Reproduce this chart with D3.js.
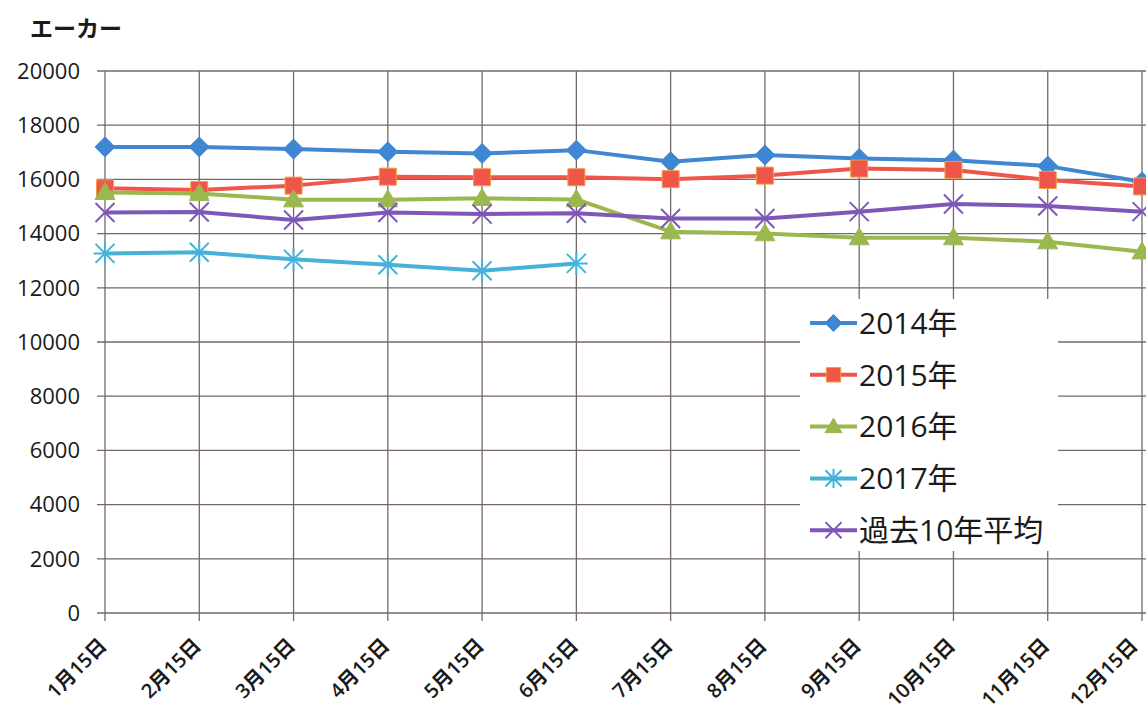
<!DOCTYPE html>
<html><head><meta charset="utf-8">
<script src="https://cdn.jsdelivr.net/npm/d3@7"></script>
<style>
html,body{margin:0;padding:0;background:#fff;}
svg{display:block;}
text{font-family:"Open Sans","Noto Sans CJK JP",sans-serif;fill:#1a1a1a;}
</style></head>
<body>
<svg id="c" width="1146" height="716"></svg>
<script>
const categories = ["1月15日","2月15日","3月15日","4月15日","5月15日","6月15日","7月15日","8月15日","9月15日","10月15日","11月15日","12月15日"];
const yTicks = [0,2000,4000,6000,8000,10000,12000,14000,16000,18000,20000];
const s2014 = [17200,17200,17120,17020,16960,17080,16650,16900,16770,16710,16490,15910];
const s2015 = [15670,15610,15770,16100,16080,16080,16010,16140,16400,16350,15980,15740];
const s2016 = [15520,15480,15250,15250,15300,15260,14070,14000,13850,13850,13700,13330];
const s2017 = [13270,13310,13050,12850,12630,12900];
const avg10 = [14780,14800,14500,14780,14720,14750,14560,14560,14810,15090,15020,14810];
const seriesNames = ["2014年","2015年","2016年","2017年","過去10年平均"];
const yTitle = "エーカー";

const series = [
  {name:seriesNames[0], values:s2014, color:"#3f87d2", marker:"diamond"},
  {name:seriesNames[1], values:s2015, color:"#ef5548", marker:"square"},
  {name:seriesNames[2], values:s2016, color:"#9bb84f", marker:"triangle"},
  {name:seriesNames[3], values:s2017, color:"#46b2d8", marker:"star"},
  {name:seriesNames[4], values:avg10, color:"#7e57b8", marker:"x"}
];

const svg = d3.select("#c");
const x = d3.scalePoint().domain(categories).range([105,1142]);
const y = d3.scaleLinear().domain([0,20000]).range([613,71]);
const grid = "#76686a";

svg.append("g").selectAll("line").data(yTicks).join("line")
  .attr("x1",97).attr("x2",1146)
  .attr("y1",d=>y(d)).attr("y2",d=>y(d))
  .attr("stroke",grid).attr("stroke-width",1.3);
svg.append("g").selectAll("line").data(categories).join("line")
  .attr("x1",d=>x(d)).attr("x2",d=>x(d))
  .attr("y1",y(20000)).attr("y2",621)
  .attr("stroke",grid).attr("stroke-width",1.3);

svg.append("g").selectAll("text").data(yTicks).join("text")
  .attr("x",80).attr("y",d=>y(d)).attr("dy","0.35em")
  .attr("text-anchor","end").attr("font-size",22).text(d=>d);

const lastCat = categories[categories.length-1];
svg.append("g").selectAll("text").data(categories).join("text")
  .attr("transform",d=>`translate(${Math.min(x(d)-2, 1134)},${642}) rotate(-45)`)
  .attr("text-anchor","end").attr("dy","0.35em").attr("font-size",20)
  .attr("font-weight",600).text(d=>d);

svg.append("text").attr("x",30).attr("y",37).attr("font-size",23).attr("font-weight","bold")
  .attr("font-family","Noto Sans CJK JP").text(yTitle);

function markerPath(type, s){
  switch(type){
    case "diamond": return `M0,${-s}L${s},0L0,${s}L${-s},0Z`;
    case "square": return `M${-s},${-s}H${s}V${s}H${-s}Z`;
    case "triangle": return `M0,${-s*1.05}L${s*1.05},${s*0.75}L${-s*1.05},${s*0.75}Z`;
    case "star": return `M${-s},${-s}L${s},${s}M${-s},${s}L${s},${-s}M0,${-s*1.2}V${s*1.2}M${-s*1.2},0H${s*1.2}`;
    case "x": return `M${-s},${-s}L${s},${s}M${-s},${s}L${s},${-s}`;
  }
}
function drawMarker(g, type, color, s){
  const p = g.append("path").attr("d", markerPath(type,s));
  if(type==="star"||type==="x"){
    p.attr("fill","none").attr("stroke",color).attr("stroke-width",2);
  } else {
    p.attr("fill",color).attr("stroke", type==="square" ? "#f0a040" : color).attr("stroke-width",1);
  }
}
const sizes = {diamond:10, square:8.5, triangle:9.5, star:9.5, x:9.5};

const line = d3.line().x((d,i)=>x(categories[i])).y(d=>y(d));
series.forEach(s=>{
  const g = svg.append("g");
  g.append("path").datum(s.values).attr("d",line)
    .attr("fill","none").attr("stroke",s.color).attr("stroke-width",4).attr("stroke-linejoin","round");
  s.values.forEach((v,i)=>{
    const mg = g.append("g").attr("transform",`translate(${x(categories[i])},${y(v)})`);
    drawMarker(mg, s.marker, s.color, sizes[s.marker]);
  });
});

const lg = svg.append("g");
lg.append("rect").attr("x",800).attr("y",299).attr("width",258).attr("height",252).attr("fill","#fff");
series.forEach((s,i)=>{
  const cy = 323 + i*51.8;
  const g = lg.append("g");
  g.append("line").attr("x1",810).attr("x2",857).attr("y1",cy).attr("y2",cy)
    .attr("stroke",s.color).attr("stroke-width",4);
  const mg = g.append("g").attr("transform",`translate(833.5,${cy})`);
  drawMarker(mg, s.marker, s.color, sizes[s.marker]*0.85);
  g.append("text").attr("x",859).attr("y",cy).attr("dy","0.36em").attr("font-size",30).text(s.name);
});
</script>
</body></html>
